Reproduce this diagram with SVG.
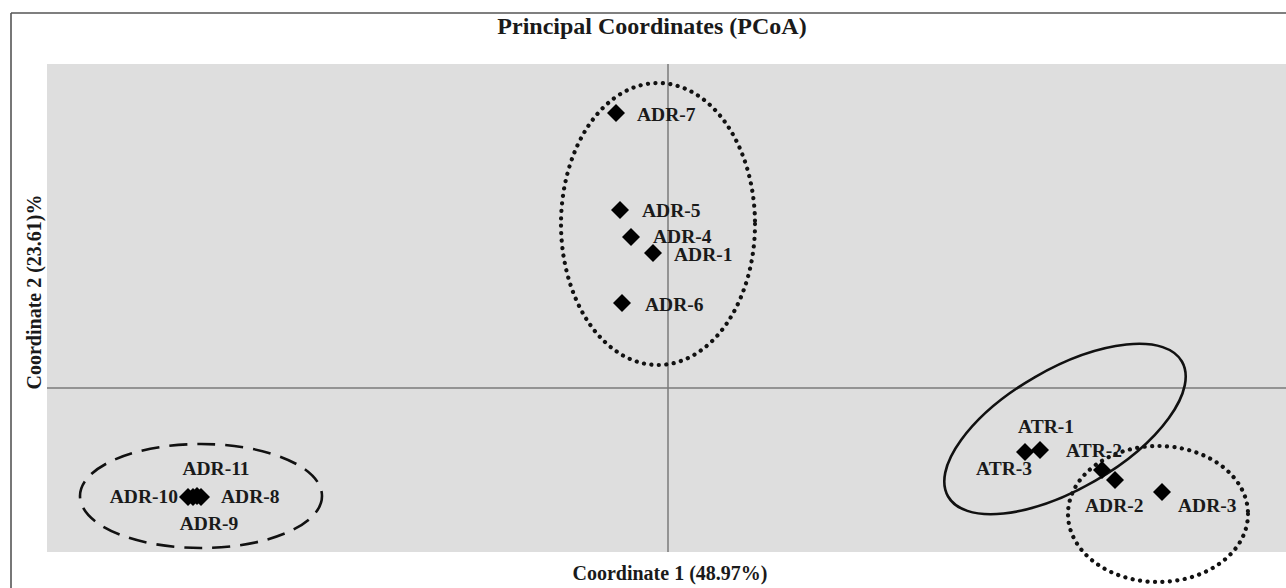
<svg xmlns="http://www.w3.org/2000/svg" xmlns:xlink="http://www.w3.org/1999/xlink" width="1286" height="588" viewBox="0 0 1286 588">
<style>
.lbl{font-family:"Liberation Serif","Times New Roman",serif;font-weight:bold;font-size:19.5px;fill:#1a1a1a}
.title{font-family:"Liberation Serif","Times New Roman",serif;font-weight:bold;font-size:24px;fill:#1a1a1a}
.axt{font-family:"Liberation Serif","Times New Roman",serif;font-weight:bold;font-size:20px;fill:#1a1a1a}
.axis{stroke:#7a7a7a;stroke-width:1.5;fill:none}
.dotted{fill:none;stroke:#111;stroke-width:4.2;stroke-linecap:round;stroke-dasharray:0.1 7.4}
.dashed{fill:none;stroke:#111;stroke-width:2.6;stroke-dasharray:18 10}
.solid{fill:none;stroke:#111;stroke-width:2.6}
.pt{fill:#000}
</style>
<defs>
<path id="dia" d="M0,-9 L9,0 L0,9 L-9,0 Z"/>
</defs>
<rect x="0" y="0" width="1286" height="588" fill="#ffffff"/>
<g id="frame">
<line x1="11" y1="13" x2="1286" y2="13" stroke="#555" stroke-width="1.6"/>
<line x1="11" y1="13" x2="11" y2="588" stroke="#555" stroke-width="1.6"/>
<rect x="47" y="64" width="1239" height="488" fill="#dedede"/>
</g>
<g id="axes">
<line class="axis" x1="668" y1="64" x2="668" y2="552"/>
<line class="axis" x1="47" y1="388" x2="1286" y2="388"/>
</g>
<text class="title" x="652" y="34" text-anchor="middle">Principal Coordinates (PCoA)</text>
<text class="axt" x="670" y="580" text-anchor="middle">Coordinate 1 (48.97%)</text>
<text class="axt" transform="translate(41,292) rotate(-90)" text-anchor="middle">Coordinate 2 (23.61)%</text>
<g id="connectors">
<ellipse id="grp-top" class="dotted" cx="658" cy="224" rx="97" ry="141"/>
<ellipse id="grp-left" class="dashed" cx="201" cy="496" rx="121" ry="52"/>
<ellipse id="grp-atr" class="solid" cx="1065" cy="429" rx="135" ry="60" transform="rotate(-30 1065 429)"/>
<ellipse id="grp-adr23" class="dotted" cx="1158" cy="514" rx="90" ry="68"/>
</g>
<g id="ADR-7"><use href="#dia" x="616" y="113" class="pt"/><text class="lbl" x="637" y="121">ADR-7</text></g>
<g id="ADR-5"><use href="#dia" x="620" y="210" class="pt"/><text class="lbl" x="642" y="217">ADR-5</text></g>
<g id="ADR-4"><use href="#dia" x="631" y="237" class="pt"/><text class="lbl" x="653" y="243">ADR-4</text></g>
<g id="ADR-1"><use href="#dia" x="653" y="253" class="pt"/><text class="lbl" x="674" y="261">ADR-1</text></g>
<g id="ADR-6"><use href="#dia" x="622" y="303" class="pt"/><text class="lbl" x="645" y="311">ADR-6</text></g>
<g id="ADR-10"><use href="#dia" x="188" y="497" class="pt"/><text class="lbl" x="178" y="503" text-anchor="end">ADR-10</text></g>
<g id="ADR-9"><use href="#dia" x="193" y="497" class="pt"/><text class="lbl" x="209" y="530" text-anchor="middle">ADR-9</text></g>
<g id="ADR-11"><use href="#dia" x="197" y="496" class="pt"/><text class="lbl" x="216" y="475" text-anchor="middle">ADR-11</text></g>
<g id="ADR-8"><use href="#dia" x="201" y="497" class="pt"/><text class="lbl" x="221" y="503">ADR-8</text></g>
<g id="ATR-3"><use href="#dia" x="1025" y="452" class="pt"/><text class="lbl" x="1032" y="475" text-anchor="end">ATR-3</text></g>
<g id="ATR-1"><use href="#dia" x="1040" y="450" class="pt"/><text class="lbl" x="1018" y="433">ATR-1</text></g>
<g id="ATR-2"><use href="#dia" x="1102" y="470" class="pt"/><text class="lbl" x="1066" y="457">ATR-2</text></g>
<g id="ADR-2"><use href="#dia" x="1115" y="480" class="pt"/><text class="lbl" x="1085" y="512">ADR-2</text></g>
<g id="ADR-3"><use href="#dia" x="1162" y="492" class="pt"/><text class="lbl" x="1178" y="512">ADR-3</text></g>
</svg>
